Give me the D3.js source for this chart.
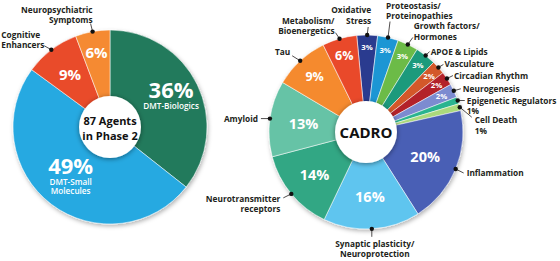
<!DOCTYPE html>
<html>
<head>
<meta charset="utf-8">
<style>
  body { margin: 0; background: #fff; }
  svg { font-family: "Open Sans", sans-serif; }
  .callout text { font-size: 8.3px; font-weight: 700; fill: #231f20; }
  .leader { stroke: #231f20; stroke-width: 0.8; fill: none; }
  .pct { fill: #fff; font-weight: 700; text-anchor: middle; }
</style>
</head>
<body>
<svg width="560" height="261"></svg>
<script src="https://cdn.jsdelivr.net/npm/d3@7"></script>
<script>

// left pie: agents in phase 2 by type (counts out of 87)
var typeNames = ["DMT-Biologics", "DMT-Small Molecules", "Cognitive Enhancers", "Neuropsychiatric Symptoms"]
var typeCounts = [31, 43, 8, 5]
var typeColors = ["#237a5c", "#27a9e1", "#e94b2b", "#f58a30"]

// right pie: CADRO categories (counts out of 87)
var cadroNames = ["Oxidative Stress", "Proteostasis/Proteinopathies", "Growth factors/Hormones", "APOE & Lipids",
  "Vasculature", "Circadian Rhythm", "Neurogenesis", "Epigenetic Regulators", "Cell Death",
  "Inflammation", "Synaptic plasticity/Neuroprotection", "Neurotransmitter receptors", "Amyloid", "Tau",
  "Metabolism/Bioenergetics"]
var cadroCounts = [3, 3, 3, 3, 2, 2, 2, 1, 1, 17, 14, 12, 11, 8, 5]
var cadroColors = ["#2b3a8f", "#1f96d4", "#6cbb46", "#1f9a7b", "#d3582b", "#b3242b", "#7b8bd0",
  "#2cb48f", "#aad97b", "#4a5fb5", "#5ec5ef", "#33a784", "#66c3a6", "#f58a2e", "#e94a2c"]

var svg = d3.select("svg")
var defs = svg.append("defs")

defs.append("filter").attr("id", "pieShadow")
  .attr("x", "-10%").attr("y", "-10%").attr("width", "120%").attr("height", "125%")
  .append("feDropShadow")
  .attr("dx", 1).attr("dy", 2).attr("stdDeviation", 2)
  .attr("flood-color", "#000").attr("flood-opacity", 0.3)

defs.append("filter").attr("id", "holeShadow")
  .attr("x", "-30%").attr("y", "-30%").attr("width", "160%").attr("height", "160%")
  .append("feDropShadow")
  .attr("dx", 0).attr("dy", 1).attr("stdDeviation", 2.5)
  .attr("flood-color", "#000").attr("flood-opacity", 0.45)

function drawPie(cfg) {
  var total = d3.sum(cfg.counts)
  var pie = d3.pie().sort(null).value(function(d) { return d })
    .startAngle(cfg.start).endAngle(cfg.start + 2 * Math.PI)
  var arcs = pie(cfg.counts)
  var arc = d3.arc().innerRadius(0).outerRadius(cfg.r)
  var edge = d3.arc().innerRadius(cfg.r).outerRadius(cfg.r)

  var g = svg.append("g").attr("transform", "translate(" + cfg.cx + "," + cfg.cy + ")")

  g.append("g").attr("filter", "url(#pieShadow)")
    .selectAll("path").data(arcs).enter().append("path")
    .attr("d", arc)
    .attr("fill", function(d, i) { return cfg.colors[i] })
    .attr("stroke", "rgba(255,255,255,0.75)")
    .attr("stroke-width", 0.7)

  // percent labels inside slices
  var lab = g.append("g")
  arcs.forEach(function(d, i) {
    var f = cfg.pctR[i]
    if (!f) return
    var p = d3.arc().innerRadius(cfg.r * f).outerRadius(cfg.r * f).centroid(d)
    lab.append("text").attr("class", "pct")
      .attr("x", p[0]).attr("y", p[1] + (cfg.pctDy[i] || 0))
      .attr("dy", cfg.subs[i] ? 0 : "0.36em")
      .style("font-size", cfg.pctSize[i] + "px")
      .text(Math.round(cfg.counts[i] / total * 100) + "%")
    if (cfg.subs[i]) {
      cfg.subs[i].forEach(function(s, k) {
        lab.append("text").attr("class", "pct")
          .attr("x", p[0]).attr("y", p[1] + (cfg.pctDy[i] || 0) + 11 + k * 9.5)
          .style("font-size", "8.2px").style("font-weight", 600)
          .text(s)
      })
    }
  })

  // callouts: dot on the rim, short leader, text
  var co = g.append("g").attr("class", "callout")
  arcs.forEach(function(d, i) {
    var c = cfg.callouts[i]
    if (!c) return
    var p = edge.centroid(d)
    co.append("line").attr("class", "leader")
      .attr("x1", p[0]).attr("y1", p[1])
      .attr("x2", p[0] + c.lx).attr("y2", p[1] + c.ly)
    co.append("circle").attr("cx", p[0]).attr("cy", p[1]).attr("r", 2.2).attr("fill", "#111")
    var lines = c.lines.slice()
    if (c.pct) lines.push(Math.round(cfg.counts[i] / total * 100) + "%")
    lines.forEach(function(s, k) {
      co.append("text")
        .attr("x", p[0] + c.tx).attr("y", p[1] + c.ty + k * 10.5)
        .attr("text-anchor", c.anchor)
        .text(s)
    })
  })

  // white centre
  g.append("circle").attr("r", cfg.hole).attr("fill", "#fff").attr("filter", "url(#holeShadow)")
  cfg.centre.forEach(function(s, k) {
    g.append("text")
      .attr("y", cfg.centreY + k * cfg.centreLH)
      .attr("text-anchor", "middle")
      .style("font-size", cfg.centreSize + "px").style("font-weight", 700).style("fill", "#111")
      .text(s)
  })
}

drawPie({
  cx: 110, cy: 127, r: 97, hole: 31, start: 0,
  counts: typeCounts, colors: typeColors,
  pctR: [0.7, 0.67, 0.68, 0.78],
  pctSize: [22, 22, 15, 15],
  pctDy: [1, -5, 0, 0],
  subs: [["DMT-Biologics"], ["DMT-Small", "Molecules"], null, null],
  callouts: [null, null,
    {lines: ["Cognitive", "Enhancers"], anchor: "start", tx: -50, ty: -12, lx: -7, ly: -4},
    {lines: ["Neuropsychiatric", "Symptoms"], anchor: "end", tx: 0, ty: -19, lx: -2, ly: -8}],
  centre: ["87 Agents", "in Phase 2"], centreY: -2, centreLH: 14.5, centreSize: 11
})

drawPie({
  cx: 366, cy: 132, r: 97, hole: 31, start: -5.5 * Math.PI / 180,
  counts: cadroCounts, colors: cadroColors,
  pctR: [0.87, 0.87, 0.87, 0.87, 0.87, 0.87, 0.86, 0, 0, 0.66, 0.67, 0.69, 0.65, 0.78, 0.82],
  pctSize: [7.8, 7.8, 7.8, 7.8, 7.8, 7.8, 7.8, 7, 7, 14.5, 14.5, 14.5, 14.5, 12.5, 12.5],
  pctDy: [],
  subs: [],
  callouts: [
    {lines: ["Oxidative", "Stress"], anchor: "end", tx: 4, ty: -22, lx: 1, ly: -8},
    {lines: ["Proteostasis/", "Proteinopathies"], anchor: "start", tx: -2, ty: -29, lx: 2, ly: -16},
    {lines: ["Growth factors/", "Hormones"], anchor: "start", tx: 6, ty: -15, lx: 5, ly: -7},
    {lines: ["APOE & Lipids"], anchor: "start", tx: 5, ty: -1, lx: 4, ly: -4},
    {lines: ["Vasculature"], anchor: "start", tx: 6, ty: 0, lx: 5, ly: -3},
    {lines: ["Circadian Rhythm"], anchor: "start", tx: 7, ty: 0, lx: 6, ly: -3},
    {lines: ["Neurogenesis"], anchor: "start", tx: 9, ty: 1, lx: 7, ly: -2},
    {lines: ["Epigenetic Regulators"], pct: true, anchor: "start", tx: 9, ty: 3, lx: 7, ly: 0},
    {lines: ["Cell Death"], pct: true, anchor: "start", tx: 15, ty: 16, lx: 12, ly: 10},
    {lines: ["Inflammation"], anchor: "start", tx: 11, ty: 7, lx: 8, ly: 4},
    {lines: ["Synaptic plasticity/", "Neuroprotection"], anchor: "middle", tx: 3, ty: 18, lx: 0, ly: 8},
    {lines: ["Neurotransmitter", "receptors"], anchor: "end", tx: -11, ty: 8, lx: -8, ly: 4},
    {lines: ["Amyloid"], anchor: "end", tx: -12, ty: 3, lx: -9, ly: 0},
    {lines: ["Tau"], anchor: "end", tx: -10, ty: -6, lx: -8, ly: -5},
    {lines: ["Metabolism/", "Bioenergetics"], anchor: "end", tx: -5, ty: -15, lx: -4, ly: -6}
  ],
  centre: ["CADRO"], centreY: 5.5, centreLH: 0, centreSize: 15
})

</script>
</body>
</html>
